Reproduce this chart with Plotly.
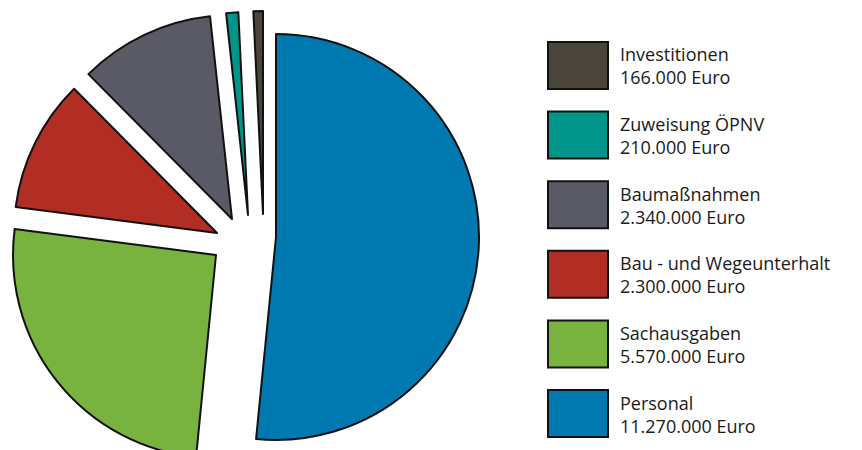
import plotly.graph_objects as go

# ---- data ----
labels = ["Personal", "Sachausgaben", "Bau - und Wegeunterhalt",
          "Baumaßnahmen", "Zuweisung ÖPNV", "Investitionen"]
values = [11270000, 5570000, 2300000, 2340000, 210000, 166000]
colors = ["#0079B1", "#78B23F", "#B22E25", "#5A5A66", "#00958A", "#4A453A"]

# ---- layout (px, figure coordinates) ----
W, H = 862, 450
# exploded slice tips (px from top-left) and radii
tips = [(268, 229), (208, 247), (209, 225), (224, 211), (240, 207), (255, 206)]
radii = [203, 203, 203, 204, 203, 203]


def fmt(v):
    return f"{v:,}".replace(",", ".") + " Euro"


fig = go.Figure()
n = len(values)
for k in range(n):
    cx, cy = tips[k]
    r = radii[k]
    dx = [max(0.0, (cx - r) / W), min(1.0, (cx + r) / W)]
    dy = [max(0.0, 1 - (cy + r) / H), min(1.0, 1 - (cy - r) / H)]
    fig.add_trace(go.Pie(
        labels=labels, values=values, sort=False, direction="clockwise",
        rotation=0, textinfo="none", hoverinfo="label+value",
        showlegend=False,
        marker=dict(
            colors=[colors[i] if i == k else "rgba(0,0,0,0)" for i in range(n)],
            line=dict(color="#111111", width=[2 if i == k else 0 for i in range(n)]),
        ),
        domain=dict(x=dx, y=dy),
    ))

# ---- legend (reversed order) ----
box_x0, box_x1 = 540, 600
box_h = 47
top0, step = 34, 69.6
shapes, annots = [], []
for j, i in enumerate(reversed(range(n))):
    y0 = top0 + j * step
    y1 = y0 + box_h
    shapes.append(dict(type="rect", xref="paper", yref="paper",
                       x0=box_x0 / W, x1=box_x1 / W,
                       y0=1 - y1 / H, y1=1 - y0 / H,
                       fillcolor=colors[i], line=dict(color="#111111", width=2)))
    annots.append(dict(xref="paper", yref="paper", x=610 / W, y=1 - (y0 + box_h / 2 + 0.5) / H,
                       xanchor="left", yanchor="middle", align="left", showarrow=False,
                       text=labels[i] + "<br>" + fmt(values[i]),
                       font=dict(family="Open Sans", size=18, color="#1a1a1a")))

fig.update_layout(width=W, height=H, margin=dict(l=0, r=0, t=0, b=0),
                  paper_bgcolor="white", plot_bgcolor="white",
                  showlegend=False, shapes=shapes, annotations=annots)

fig.write_html("out.html")
